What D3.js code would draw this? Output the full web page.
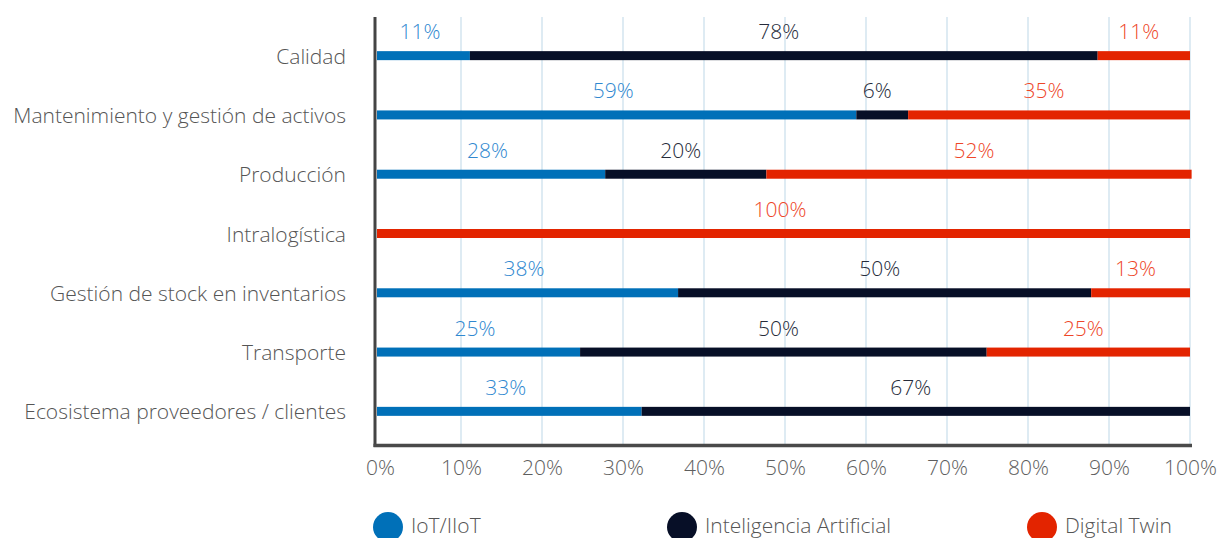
<!DOCTYPE html>
<html>
<head>
<meta charset="utf-8">
<script src="https://cdn.jsdelivr.net/npm/d3@7"></script>
<style>
  html, body { margin: 0; padding: 0; background: #fff; }
  svg { display: block; font-family: "Open Sans", sans-serif; }
</style>
</head>
<body>
<svg id="chart" width="1217" height="538"></svg>
<script>
// ---- data ----
const categories = [
  "Calidad",
  "Mantenimiento y gestión de activos",
  "Producción",
  "Intralogística",
  "Gestión de stock en inventarios",
  "Transporte",
  "Ecosistema proveedores / clientes"
];
const seriesNames = ["IoT/IIoT", "Inteligencia Artificial", "Digital Twin"];
// bar lengths (%)
const iotValues  = [11.1, 58.8, 27.8, 0, 36.8, 24.7, 32.3];
const aiValues   = [77.5, 6.4, 19.9, 0, 51.0, 50.2, 67.7];
const twinValues = [11.4, 34.8, 52.5, 100, 12.2, 25.1, 0];
// printed percentage labels
const iotLabels  = [11, 59, 28, null, 38, 25, 33];
const aiLabels   = [78, 6, 20, null, 50, 50, 67];
const twinLabels = [11, 35, 52, 100, 13, 25, null];
const xTicks = [0, 10, 20, 30, 40, 50, 60, 70, 80, 90, 100];

// ---- styles ----
const barColors = ["#0070b8", "#070f27", "#e32400"];
const labelColors = ["#2f88d0", "#262b3a", "#ee4628"];
const FS = 21;
const FW = 300;

const svg = d3.select("#chart");
const x = d3.scaleLinear().domain([0, 100]).range([380, 1190]);
const y = d3.scaleBand().domain(categories).range([26, 441]).paddingInner(0).paddingOuter(0);
const barH = 9;

// gridlines
svg.append("g").selectAll("line").data(xTicks.slice(1)).join("line")
  .attr("x1", d => x(d)).attr("x2", d => x(d))
  .attr("y1", 17).attr("y2", 445)
  .attr("stroke", "#d3e5ef").attr("stroke-width", 1.5);

// stacked data
const rows = categories.map((c, i) => ({
  cat: c,
  vals: [iotValues[i], aiValues[i], twinValues[i]],
  labels: [iotLabels[i], aiLabels[i], twinLabels[i]]
}));
const segs = [];
rows.forEach(r => {
  let acc = 0;
  r.vals.forEach((v, k) => {
    segs.push({ cat: r.cat, k, x0: acc, x1: acc + v, label: r.labels[k] });
    acc += v;
  });
});

// bars
svg.append("g").selectAll("rect").data(segs.filter(s => s.x1 > s.x0)).join("rect")
  .attr("x", d => x(d.x0) - (d.x0 === 0 ? 3 : 0))
  .attr("width", d => x(d.x1) - x(d.x0) + (d.x0 === 0 ? 3 : 0))
  .attr("y", d => y(d.cat) + y.bandwidth() / 2 - barH / 2)
  .attr("height", barH)
  .attr("fill", d => barColors[d.k]);

// value labels
svg.append("g").selectAll("text").data(segs.filter(s => s.label != null)).join("text")
  .attr("x", d => x((d.x0 + d.x1) / 2) - 5)
  .attr("y", d => y(d.cat) + y.bandwidth() / 2 - barH / 2 - 12)
  .attr("text-anchor", "middle")
  .attr("font-size", FS)
  .attr("font-weight", FW)
  .attr("fill", d => labelColors[d.k])
  .text(d => d.label + "%");

// category labels
svg.append("g").selectAll("text").data(categories).join("text")
  .attr("x", 346)
  .attr("y", d => y(d) + y.bandwidth() / 2 + 8)
  .attr("text-anchor", "end")
  .attr("font-size", FS)
  .attr("font-weight", FW)
  .attr("fill", "#555")
  .text(d => d);

// axes lines
svg.append("line").attr("x1", 375).attr("x2", 375).attr("y1", 17).attr("y2", 447)
  .attr("stroke", "#444").attr("stroke-width", 3);
svg.append("line").attr("x1", 373.5).attr("x2", 1192).attr("y1", 445.5).attr("y2", 445.5)
  .attr("stroke", "#4a4a4a").attr("stroke-width", 3.5);

// x tick labels
const xAxis = d3.axisBottom(x).tickValues(xTicks).tickSize(0).tickFormat(d => d + "%");
const gx = svg.append("g").attr("transform", "translate(0,447)").call(xAxis);
gx.select(".domain").remove();
gx.selectAll("text")
  .attr("dy", 0).attr("y", 28)
  .attr("font-size", FS)
  .attr("font-weight", FW)
  .attr("font-family", "Open Sans, sans-serif")
  .attr("fill", "#5e5e5e");

// legend
const legendX = [388, 682, 1042];
const lg = svg.append("g").selectAll("g").data(seriesNames).join("g")
  .attr("transform", (d, i) => `translate(${legendX[i]},527)`);
lg.append("circle").attr("r", 15).attr("fill", (d, i) => barColors[i]);
lg.append("text").attr("x", 23).attr("y", 6)
  .attr("font-size", FS)
  .attr("font-weight", FW)
  .attr("fill", "#555").text(d => d);
</script>
</body>
</html>
